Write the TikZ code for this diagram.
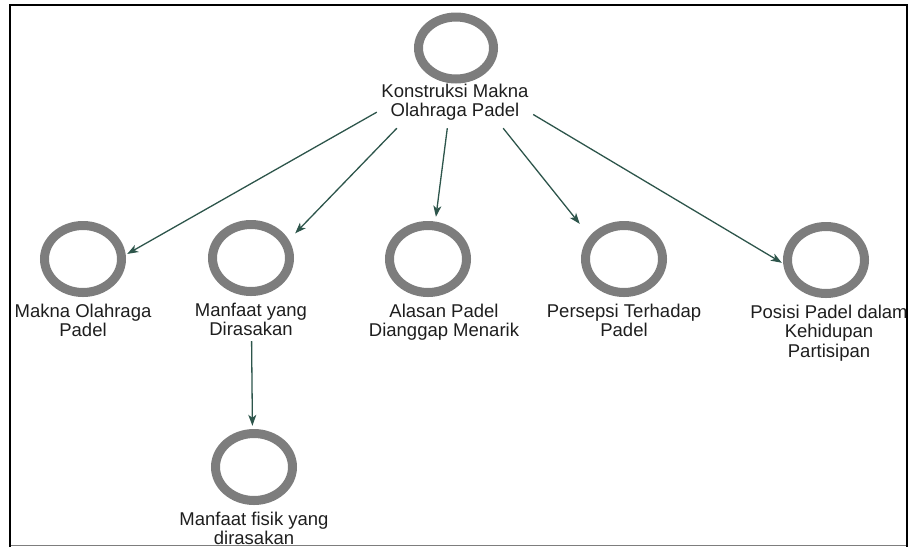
\documentclass[tikz,border=0pt]{standalone}
\usepackage{fontspec}
\setmainfont{Liberation Sans}
\usetikzlibrary{arrows.meta,shapes.geometric}
\definecolor{ringgray}{RGB}{125,125,125}
\definecolor{edgecol}{RGB}{45,85,75}
\definecolor{txtcol}{RGB}{30,30,30}
\begin{document}
\begin{tikzpicture}[x=1pt,y=-1pt,
  ringnode/.style={ellipse, draw=ringgray, line width=9pt, inner sep=0pt,
                   minimum width=77pt, minimum height=67pt},
  topring/.style={ringnode, minimum width=75pt, minimum height=62pt},
  lbl/.style={align=center, anchor=north, inner sep=0pt, text=txtcol,
              font=\fontsize{18.5}{19.5}\selectfont},
  grp/.style={rectangle, draw=none, inner sep=0pt, minimum width=88pt, minimum height=124pt},
  conn/.style={draw=edgecol, line width=1.3pt, -{Stealth[length=11pt,width=8pt,inset=3pt]}}
]
\useasboundingbox (0,0) rectangle (912,547);
% frame
\draw[ringgray, line width=1pt] (10,545.5) -- (907,545.5);
\draw[black, line width=2.2pt] (10,547) -- (10,5) -- (907,5) -- (907,547);

% group boxes (for connector clipping)
\node[grp, minimum width=156pt, minimum height=120pt] (topbox) at (455,68) {};
\node[grp] (makbox) at (83,279) {};
\node[grp] (manbox) at (251,279) {};
\node[grp] (alabox) at (428,279) {};
\node[grp] (perbox) at (624,279) {};
\node[grp, minimum height=144pt] (posbox) at (826,289) {};
\node[grp] (fisbox) at (253,488) {};

% rings
\node[topring] (topc) at (456,48) {};
\node[ringnode] (makc) at (83,259) {};
\node[ringnode] (manc) at (251,258) {};
\node[ringnode] (alac) at (428,259) {};
\node[ringnode] (perc) at (624,259) {};
\node[ringnode] (posc) at (826,260) {};
\node[ringnode] (fisc) at (254,467) {};

% labels
\node[lbl] (topl) at (455,83.7) {Konstruksi Makna\\Olahraga Padel};
\node[lbl] (makl) at (83,303.7) {Makna Olahraga\\Padel};
\node[lbl] (manl) at (251,302.7) {Manfaat yang\\Dirasakan};
\node[lbl] (alal) at (444,303.7) {Alasan Padel\\Dianggap Menarik};
\node[lbl] (perl) at (624,303.7) {Persepsi Terhadap\\Padel};
\node[lbl] (posl) at (829,304.7) {Posisi Padel dalam\\Kehidupan\\Partisipan};
\node[lbl] (fisl) at (254,511.7) {Manfaat fisik yang\\dirasakan};

% connectors
\draw[conn] (topbox) -- (makbox);
\draw[conn] (topbox) -- (manbox);
\draw[conn] (topbox) -- (alabox);
\draw[conn] (topbox) -- (perbox);
\draw[conn] (topbox) -- (posbox);
\draw[conn] (manbox) -- (fisbox);
\end{tikzpicture}
\end{document}
